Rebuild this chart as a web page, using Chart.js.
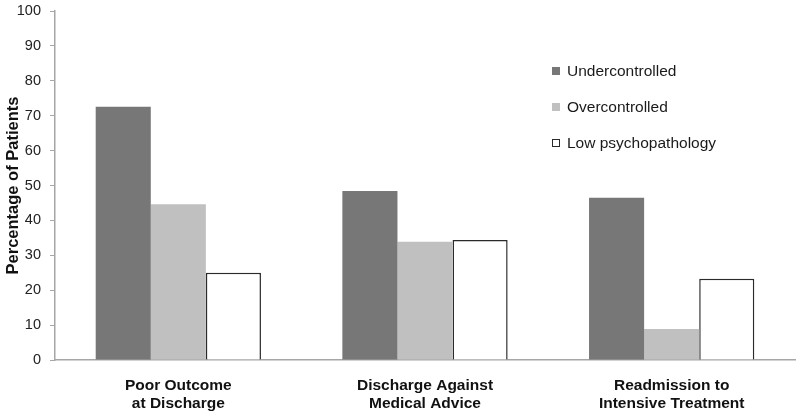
<!DOCTYPE html>
<html>
<head>
<meta charset="utf-8">
<script src="https://cdn.jsdelivr.net/npm/chart.js@4/dist/chart.umd.min.js"></script>
<style>
  html, body { margin: 0; padding: 0; background: #fff; }
  #wrap { width: 800px; height: 417px; }
</style>
</head>
<body>
<div id="wrap"><canvas id="chart" width="800" height="417"></canvas></div>
<script>
const categories = [
  ["Poor Outcome", "at Discharge"],
  ["Discharge Against", "Medical Advice"],
  ["Readmission to", "Intensive Treatment"]
]
const undercontrolled = [72.6, 48.4, 46.5]
const overcontrolled = [44.6, 33.9, 8.9]
const lowPsychopathology = [25.0, 34.4, 23.3]
const yTicks = { min: 0, max: 100, step: 10 }

const FONT = "'Liberation Sans', Arial, sans-serif"

// legend drawn inside the plot, stacked at the right
const insideLegend = {
  id: "insideLegend",
  afterDraw(chart) {
    const ctx = chart.ctx
    ctx.save()
    ctx.font = "15.5px " + FONT
    ctx.textBaseline = "middle"
    chart.data.datasets.forEach((ds, i) => {
      const x = 556, y = 71 + i * 36
      ctx.fillStyle = ds.backgroundColor
      ctx.fillRect(x - 4, y - 4, 8, 8)
      if (ds.borderWidth) {
        ctx.strokeStyle = ds.borderColor
        ctx.lineWidth = 1
        ctx.strokeRect(x - 3.5, y - 3.5, 7, 7)
      }
      ctx.fillStyle = "#1a1a1a"
      ctx.fillText(ds.label, x + 11, y + 1)
    })
    ctx.restore()
  }
}

new Chart(document.getElementById("chart"), {
  type: "bar",
  data: {
    labels: categories,
    datasets: [
      { label: "Undercontrolled", data: undercontrolled, backgroundColor: "#777777", borderWidth: 0 },
      { label: "Overcontrolled", data: overcontrolled, backgroundColor: "#c0c0c0", borderWidth: 0 },
      { label: "Low psychopathology", data: lowPsychopathology, backgroundColor: "#ffffff", borderColor: "#2a2a2a", borderWidth: 1.5 }
    ]
  },
  options: {
    responsive: false,
    animation: false,
    layout: { padding: { top: 11, right: 5, left: 4, bottom: 0 } },
    datasets: { bar: { categoryPercentage: 0.67, barPercentage: 1 } },
    plugins: {
      legend: { display: false },
      tooltip: { enabled: false }
    },
    scales: {
      x: {
        grid: { display: false, drawTicks: false },
        border: { color: "#a6a6a6", width: 1.5 },
        ticks: {
          color: "#111",
          padding: 16,
          font: { family: FONT, size: 15.5, weight: "bold", lineHeight: 1.2 },
          maxRotation: 0
        },
        afterFit(scale) { scale.height = 57 }
      },
      y: {
        min: yTicks.min,
        max: yTicks.max,
        grid: { drawOnChartArea: false, tickLength: 5, color: "#a6a6a6" },
        border: { color: "#a6a6a6", width: 1.5 },
        ticks: {
          stepSize: yTicks.step,
          color: "#222",
          padding: 9,
          font: { family: FONT, size: 14.5 }
        },
        title: {
          display: true,
          text: "Percentage of Patients",
          color: "#111",
          padding: 0,
          font: { family: FONT, size: 16.5, weight: "bold" }
        },
        afterFit(scale) {
          scale.width = 51
          scale.paddingTop = 0
          scale.paddingBottom = 0
        }
      }
    }
  },
  plugins: [insideLegend]
})
</script>
</body>
</html>
